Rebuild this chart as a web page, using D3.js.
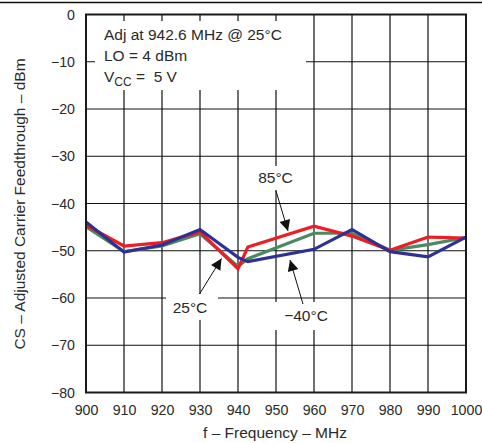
<!DOCTYPE html>
<html><head><meta charset="utf-8">
<script src="https://cdn.jsdelivr.net/npm/d3@7/dist/d3.min.js"></script>
<style>
html,body{margin:0;padding:0;background:#fff;}
svg{display:block;font-family:"Liberation Sans",Arial,sans-serif;}
</style></head>
<body>
<svg id="chart" width="482" height="443"></svg>
<script>
// ---- data ----
const freqs = [900, 910, 920, 930, 940, 942.6, 960, 970, 980, 990, 1000];
const red85 = [-44.6, -49.0, -48.3, -46.0, -53.8, -49.2, -44.8, -46.9, -49.9, -47.1, -47.3];
const green25 = [-44.9, -50.2, -49.0, -46.4, -53.3, -51.7, -46.3, -46.3, -49.9, -48.7, -47.2];
const blueM40 = [-43.9, -50.3, -48.8, -45.5, -51.4, -52.3, -49.7, -45.5, -50.2, -51.3, -47.1];
const xTicks = [900, 910, 920, 930, 940, 950, 960, 970, 980, 990, 1000];
const yTicks = [0, -10, -20, -30, -40, -50, -60, -70, -80];
const seriesNames = ["25°C", "85°C", "−40°C"];

const svg = d3.select("#chart");
const x = d3.scaleLinear().domain([900, 1000]).range([86, 466]);
const y = d3.scaleLinear().domain([-80, 0]).range([392.5, 14.5]);
const fs = "15.5px";
const tfs = "14.2px";
const txtCol = "#2a2a2a";

// page rule at top
svg.append("line").attr("x1", 0).attr("x2", 482).attr("y1", 2.5).attr("y2", 2.5)
  .attr("stroke", "#111").attr("stroke-width", 1.3);

// grid
const grid = svg.append("g");
grid.selectAll("line.v").data(xTicks.slice(1, -1)).join("line")
  .attr("x1", d => x(d)).attr("x2", d => x(d)).attr("y1", y(0)).attr("y2", y(-80))
  .attr("stroke", "#111").attr("stroke-width", 1.2);
grid.selectAll("line.h").data(yTicks.slice(1, -1)).join("line")
  .attr("x1", x(900)).attr("x2", x(1000)).attr("y1", d => y(d)).attr("y2", d => y(d))
  .attr("stroke", "#111").attr("stroke-width", 1.2);

// white masks behind annotations
const masks = [[95, 21, 211, 69], [252, 166, 46, 24], [166, 294, 52, 26], [270, 302, 66, 28]];
svg.append("g").selectAll("rect").data(masks).join("rect")
  .attr("x", d => d[0]).attr("y", d => d[1]).attr("width", d => d[2]).attr("height", d => d[3])
  .attr("fill", "#fff");

// series lines
const line = d3.line().x((d, i) => x(freqs[i])).y(d => y(d));
const series = [
  {name: seriesNames[0], vals: green25, color: "#4b8962"},
  {name: seriesNames[1], vals: red85, color: "#ee1c25"},
  {name: seriesNames[2], vals: blueM40, color: "#2e3192"}
];
svg.append("g").selectAll("path").data(series).join("path")
  .attr("d", d => line(d.vals)).attr("fill", "none")
  .attr("stroke", d => d.color).attr("stroke-width", 3.2)
  .attr("stroke-linejoin", "miter");

// frame
svg.append("rect").attr("x", x(900)).attr("y", y(0))
  .attr("width", x(1000) - x(900)).attr("height", y(-80) - y(0))
  .attr("fill", "none").attr("stroke", "#1a1a1a").attr("stroke-width", 2);

// axes (labels only)
const xAxis = d3.axisBottom(x).tickValues(xTicks).tickSize(0).tickPadding(0).tickFormat(d3.format("d"));
const gx = svg.append("g").attr("transform", `translate(0,${y(-80) + 12})`).call(xAxis);
gx.select(".domain").remove();
gx.selectAll("text").attr("font-size", tfs).attr("fill", txtCol).attr("dy", "0.71em")
  .attr("font-family", "Liberation Sans, Arial, sans-serif");

const yAxis = d3.axisLeft(y).tickValues(yTicks).tickSize(0).tickPadding(0)
  .tickFormat(d => d < 0 ? "\u2212" + Math.abs(d) : String(d));
const gy = svg.append("g").attr("transform", `translate(${x(900) - 11},0)`).call(yAxis);
gy.select(".domain").remove();
gy.selectAll("text").attr("font-size", tfs).attr("fill", txtCol)
  .attr("font-family", "Liberation Sans, Arial, sans-serif");

// axis titles
svg.append("text").attr("x", 275).attr("y", 438).attr("text-anchor", "middle")
  .attr("font-size", fs).attr("fill", txtCol).text("f \u2013 Frequency \u2013 MHz");
svg.append("text").attr("transform", "translate(25,204) rotate(-90)").attr("text-anchor", "middle")
  .attr("font-size", fs).attr("fill", txtCol).text("CS \u2013 Adjusted Carrier Feedthrough \u2013 dBm");

// condition text
const cond = svg.append("g").attr("font-size", fs).attr("fill", txtCol);
cond.append("text").attr("x", 104).attr("y", 39.5).text("Adj at 942.6 MHz @ 25°C");
cond.append("text").attr("x", 104).attr("y", 61).text("LO = 4 dBm");
const vcc = cond.append("text").attr("x", 104).attr("y", 82);
vcc.append("tspan").text("V");
vcc.append("tspan").attr("font-size", "12px").attr("dy", 4).text("CC");
vcc.append("tspan").attr("dy", -4).text("\u00a0=\u00a0\u00a05 V");

// annotations with arrows
svg.append("defs").append("marker").attr("id", "ah").attr("viewBox", "0 0 10 10")
  .attr("refX", 10).attr("refY", 5).attr("markerWidth", 13).attr("markerHeight", 11)
  .attr("markerUnits", "userSpaceOnUse").attr("orient", "auto")
  .append("path").attr("d", "M0,0 L10,5 L0,10 Z").attr("fill", "#111");

const ann = [
  {label: seriesNames[1], tx: 275.5, ty: 183, x1: 276, y1: 191, x2: 288, y2: 231},
  {label: seriesNames[0], tx: 190, ty: 313, x1: 199.5, y1: 294, x2: 221.5, y2: 258.5},
  {label: seriesNames[2], tx: 306, ty: 321, x1: 303, y1: 304, x2: 290, y2: 260}
];
const ag = svg.append("g");
ag.selectAll("line").data(ann).join("line")
  .attr("x1", d => d.x1).attr("y1", d => d.y1).attr("x2", d => d.x2).attr("y2", d => d.y2)
  .attr("stroke", "#111").attr("stroke-width", 1).attr("marker-end", "url(#ah)");
ag.selectAll("text").data(ann).join("text")
  .attr("x", d => d.tx).attr("y", d => d.ty).attr("text-anchor", "middle")
  .attr("font-size", fs).attr("fill", txtCol).text(d => d.label);
</script>
</body></html>
